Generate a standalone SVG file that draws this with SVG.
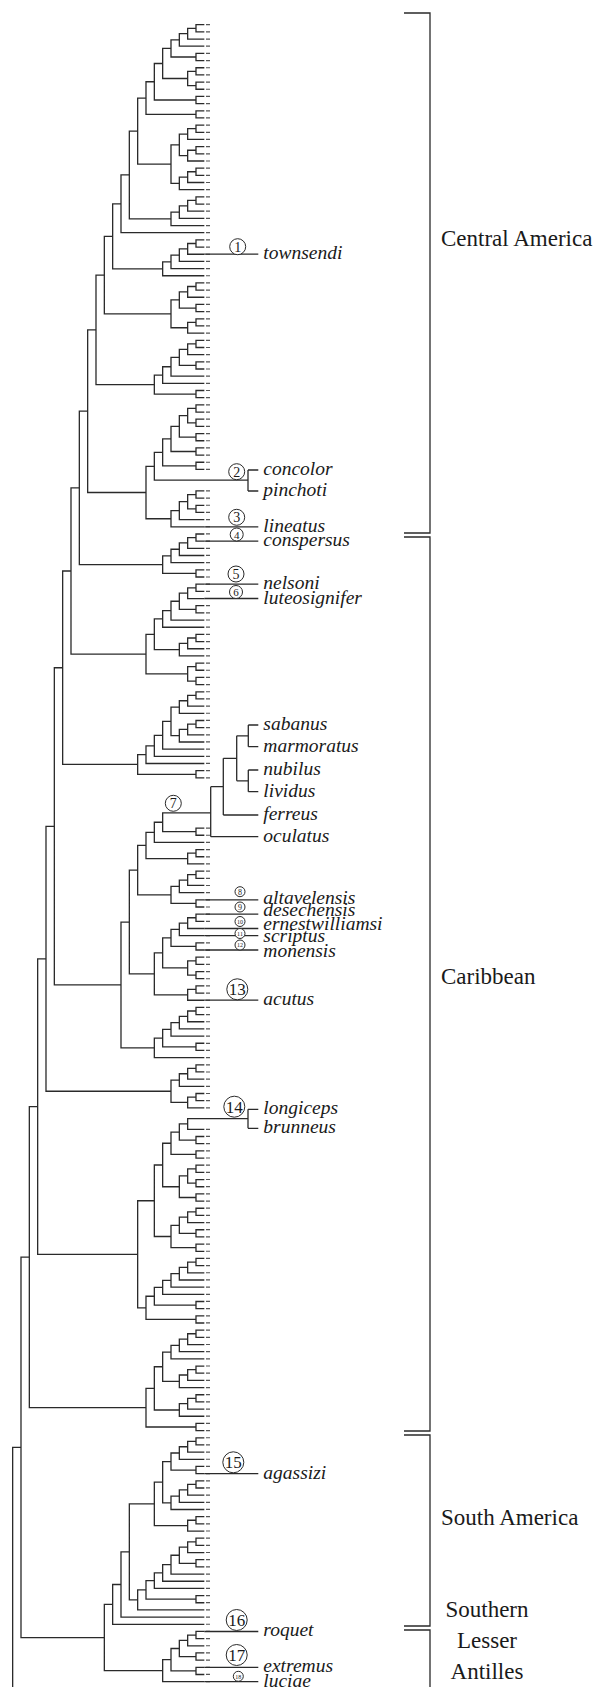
<svg xmlns="http://www.w3.org/2000/svg" width="600" height="1687" viewBox="0 0 600 1687">
<style>
.br{fill:none;stroke:#2a2a2a;stroke-width:1.3;vector-effect:non-scaling-stroke}
.ln{fill:none;stroke:#2a2a2a;stroke-width:1.3}
.tipd{fill:none;stroke:#555;stroke-width:4;stroke-dasharray:1.2 5.973}
.sp{font-family:"Liberation Serif","Times New Roman",serif;font-style:italic;font-size:19.5px;fill:#1a1a1a}
.rg{font-family:"Liberation Serif","Times New Roman",serif;font-size:23px;fill:#1a1a1a}
.c{fill:#fff;stroke:#2a2a2a;stroke-width:1}
.n{font-family:"Liberation Serif","Times New Roman",serif;text-anchor:middle;fill:#1a1a1a}
</style>
<rect width="600" height="1687" fill="#fff"/>
<g id="connectors">
<g id="tree" transform="matrix(-8.3333 0 0 7.173 204.33 24.7)">
<path id="clade-0-13" class="br" d="M0 0H1V1H0M1 0.5H2V2H0M2 1.25H3V3H0M0 4H1V5H0M3 2.125H4V4.5H1M0 6H1V7H0M0 8H1V9H0M1 6.5H2V8.5H1M4 3.3125H5V7.5H2M0 10H1V11H0M5 5.40625H6V10.5H1M0 12H1V13H0M6 7.953H7V12.5H1"/>
<path id="clade-14-23" class="br" d="M0 14H1V15H0M1 14.5H2V16H0M0 17H1V18H0M1 17.5H2V19H0M2 15.25H3V18.25H2M0 20H1V21H0M1 20.5H2V22H0M2 21.25H3V23H0M3 16.75H4V22.125H3M7 10.227H8V19.4375H4"/>
<path id="clade-24-29" class="br" d="M0 24H1V25H0M1 24.5H2V26H0M2 25.25H3V27H0M3 26.125H4V28H0M8 14.832H9V27.0625H4M9 20.947H10V29H0"/>
<path id="clade-30-35" class="br" d="M0 30H1V31H0M1 30.5H2V32H0M2 31.25H3V33H0M3 32.125H4V34H0M4 33.0625H5V35H0M10 24.974H11V34.031H5"/>
<path id="clade-36-43" class="br" d="M0 36H1V37H0M1 36.5H2V38H0M0 39H1V40H0M2 37.25H3V39.5H1M0 41H1V42H0M1 41.5H2V43H0M3 38.375H4V42.25H2M11 29.502H12V40.3125H4"/>
<path id="clade-44-52" class="br" d="M0 44H1V45H0M1 44.5H2V46H0M0 47H1V48H0M2 45.25H3V47.5H1M3 46.375H4V49H0M4 47.6875H5V50H0M0 51H1V52H0M5 48.844H6V51.5H1M12 34.907H13V50.172H6"/>
<path id="clade-53-70" class="br" d="M0 53H1V54H0M0 55H1V56H0M1 53.5H2V55.5H1M0 57H1V58H0M2 54.5H3V57.5H1M0 59H1V60H0M3 56H4V59.5H1M0 61H1V62H0M4 57.75H5V61.5H1M5 59.625H6V63.5H-5.24M0 65H1V66H0M0 67H1V68H0M1 65.5H2V67.5H1M2 66.5H3V69H0M3 67.75H4V70H0M6 61.5625H7V68.875H4M13 42.539H14V65.219H7"/>
<path id="clade-71-77" class="br" d="M0 71H1V72H0M1 71.5H2V73H0M2 72.25H3V74H0M3 73.125H4V75H0M0 76H1V77H0M4 74.0625H5V76.5H1M14 53.879H15V75.281H5"/>
<path id="clade-78-92" class="br" d="M0 78H1V79H0M1 78.5H2V80H0M0 81H1V82H0M2 79.25H3V81.5H1M3 80.375H4V83H0M4 81.6875H5V84H0M0 85H1V86H0M1 85.5H2V87H0M2 86.25H3V88H0M5 82.844H6V87.125H3M0 89H1V90H0M0 91H1V92H0M1 89.5H2V91.5H1M6 84.984H7V90.5H2M15 64.58H16V87.742H7"/>
<path id="clade-93-105" class="br" d="M0 93H1V94H0M1 93.5H2V95H0M2 94.25H3V96H0M0 97H1V98H0M1 97.5H2V99H0M2 98.25H3V100H0M3 95.125H4V99.125H3M4 97.125H5V101H0M5 99.0625H6V102H0M6 100.531H7V103H0M0 104H1V105H0M7 101.766H8V104.5H1M16 76.161H17V103.133H8"/>
<path id="clade-106-144" class="br" d="M-0.76 109.875H5V112.5H1M0 112H1V113H0M5 111.1875H6V114H0M0 115H1V116H0M1 115.5H2V117H0M6 112.594H7V116.25H2M0 118H1V119H0M1 118.5H2V120H0M2 119.25H3V121H0M0 122H1V123H0M3 120.125H4V122.5H1M7 114.422H8V121.3125H4M0 124H1V125H0M1 124.5H2V126H0M2 125.25H3V127H0M0 128H1V129H0M3 126.125H4V128.5H1M0 130H1V131H0M0 132H1V133H0M1 130.5H2V132.5H1M4 127.3125H5V131.5H2M0 134H1V135H0M1 134.5H2V136H0M5 129.406H6V135.25H2M8 117.867H9V132.328H6M0 137H1V138H0M1 137.5H2V139H0M2 138.25H3V140H0M3 139.125H4V141H0M0 142H1V143H0M4 140.0625H5V142.5H1M5 141.281H6V144H0M9 125.098H10V142.641H6M17 89.647H18V133.869H10"/>
<path id="clade-145-151" class="br" d="M0 145H1V146H0M1 145.5H2V147H0M2 146.25H3V148H0M0 149H1V150H0M1 149.5H2V151H0M3 147.125H4V150.25H2M18 111.758H19V148.6875H4"/>
<path id="clade-152-181" class="br" d="M-5.24 152.5H2V154H0M0 155H1V156H0M2 153.25H3V155.5H1M0 157H1V158H0M3 154.375H4V157.5H1M0 159H1V160H0M0 161H1V162H0M1 159.5H2V161.5H1M0 163H1V164H0M2 160.5H3V163.5H1M4 155.9375H5V162H3M0 165H1V166H0M1 165.5H2V167H0M0 168H1V169H0M2 166.25H3V168.5H1M0 170H1V171H0M3 167.375H4V170.5H1M5 158.969H6V168.9375H4M0 172H1V173H0M1 172.5H2V174H0M2 173.25H3V175H0M3 174.125H4V176H0M4 175.0625H5V177H0M0 178H1V179H0M5 176.031H6V178.5H1M0 180H1V181H0M6 177.266H7V180.5H1M6 163.953H8V178.883H7M19 130.223H20V171.418H8"/>
<path id="clade-182-196" class="br" d="M0 182H1V183H0M1 182.5H2V184H0M2 183.25H3V185H0M3 184.125H4V186H0M0 187H1V188H0M1 187.5H2V189H0M2 188.25H3V190H0M4 185.0625H5V189.125H3M0 191H1V192H0M1 191.5H2V193H0M2 192.25H3V194H0M5 187.094H6V193.125H3M0 195H1V196H0M6 190.109H7V195.5H1M20 150.82H21V192.805H7"/>
<path id="clade-197-223" class="br" d="M0 197H1V198H0M1 197.5H2V199H0M2 198.25H3V200H0M0 201H1V202H0M3 199.125H4V201.5H1M0 203H1V204H0M1 203.5H2V205H0M2 204.25H3V206H0M3 205.125H4V207H0M4 200.3125H5V206.0625H4M0 208H1V209H0M1 208.5H2V210H0M5 203.1875H6V209.25H2M0 211H1V212H0M1 211.5H2V213H0M0 214H1V215H0M2 212.25H3V214.5H1M3 213.375H4V216H0M4 214.6875H5V217H0M5 215.844H6V218H0M0 219H1V220H0M6 216.922H7V219.5H1M7 218.211H8V221H0M6 206.219H9V219.605H8M9 212.912H10V222H0M10 217.456H11V223H0"/>
<path id="clade-224-231" class="br" d="M0 224H1V225H0M1 224.5H2V226H0M0 227H1V228H0M2 225.25H3V227.5H1M0 229H1V230H0M3 226.375H4V229.5H1M4 227.9375H5V231H0M11 220.228H12V229.469H5"/>
<path id="root" class="br" d="M21 171.8125H22V224.848H12M22 198.33H23V234"/>
</g>
<g id="tip-ends">
<path class="tipd" d="M208 24.1V470.1M208 490.3V778.5M208 827.5V1108.4M208 1128.7V1682.4"/>
</g>
<g id="inset-sabanus">
<path class="ln" d="M210.7 786.7V836.7M210.7 786.7H223.3M210.7 836.7H258.3M223.3 758.3V815M223.3 815H258.3M223.3 758.3H236.7M236.7 735.8V780.8M236.7 735.8H248.3M236.7 780.8H248.3M248.3 725V746.7M248.3 725H258.3M248.3 746.7H258.3M248.3 770V791.7M248.3 770H258.3M248.3 791.7H258.3"/>
</g>
<g id="bracket-pairs">
<path class="ln" d="M248 470V491M248 470H258.3M248 491H258.3M248 1109.3V1128.3M248 1109.3H258.3M248 1128.3H258.3"/>
</g>
<g id="label-lines">
<path class="ln" d="M204.3 254.2H258.3M204.3 526.8H258.3M204.3 541.2H258.3M204.3 584.2H258.3M204.3 598.5H258.3M204.3 899.8H258.3M204.3 914.2H258.3M204.3 928.5H258.3M204.3 935.7H258.3M204.3 950H258.3M204.3 1000.2H258.3M204.3 1473.6H258.3M204.3 1631.5H258.3M204.3 1667.3H258.3M204.3 1681.7H258.3"/>
</g>
<g id="region-brackets">
<path class="ln" d="M404 13H430V533H404M404 537H430V1431H404M404 1435H430V1626H404M404 1630H430V1690"/>
</g>
</g>
<g id="markers">
<g id="m1"><circle class="c" cx="237.7" cy="246.7" r="8"/><text class="n" x="237.7" y="251.7" font-size="14">1</text></g>
<g id="m2"><circle class="c" cx="236.7" cy="471.7" r="8"/><text class="n" x="236.7" y="476.7" font-size="14">2</text></g>
<g id="m3"><circle class="c" cx="236.7" cy="517.3" r="8"/><text class="n" x="236.7" y="522.3" font-size="14">3</text></g>
<g id="m4"><circle class="c" cx="236.7" cy="534.5" r="6.5"/><text class="n" x="236.7" y="538.5" font-size="11">4</text></g>
<g id="m5"><circle class="c" cx="236" cy="574" r="8"/><text class="n" x="236" y="579" font-size="14">5</text></g>
<g id="m6"><circle class="c" cx="236" cy="592" r="6.5"/><text class="n" x="236" y="596" font-size="11">6</text></g>
<g id="m7"><circle class="c" cx="173.3" cy="803.3" r="8"/><text class="n" x="173.3" y="808.3" font-size="14">7</text></g>
<g id="m8"><circle class="c" cx="240" cy="891.7" r="5"/><text class="n" x="240" y="894.5" font-size="8">8</text></g>
<g id="m9"><circle class="c" cx="240" cy="907" r="5"/><text class="n" x="240" y="909.8" font-size="8">9</text></g>
<g id="m10"><circle class="c" cx="240" cy="921.5" r="5"/><text class="n" x="240" y="923.8" font-size="6">10</text></g>
<g id="m11"><circle class="c" cx="240" cy="933.5" r="5"/><text class="n" x="240" y="935.8" font-size="6">11</text></g>
<g id="m12"><circle class="c" cx="240" cy="945" r="5"/><text class="n" x="240" y="947.3" font-size="6">12</text></g>
<g id="m13"><circle class="c" cx="237.3" cy="989.3" r="10.5"/><text class="n" x="237.3" y="995.3" font-size="17">13</text></g>
<g id="m14"><circle class="c" cx="234.3" cy="1106.7" r="10.5"/><text class="n" x="234.3" y="1112.7" font-size="17">14</text></g>
<g id="m15"><circle class="c" cx="233.3" cy="1462.3" r="10.5"/><text class="n" x="233.3" y="1468.3" font-size="17">15</text></g>
<g id="m16"><circle class="c" cx="236.7" cy="1620" r="10.5"/><text class="n" x="236.7" y="1626" font-size="17">16</text></g>
<g id="m17"><circle class="c" cx="236.7" cy="1655" r="10.5"/><text class="n" x="236.7" y="1661" font-size="17">17</text></g>
<g id="m18"><circle class="c" cx="238.3" cy="1676.3" r="5"/><text class="n" x="238.3" y="1678.6" font-size="6">18</text></g>
</g>
<g id="species">
<text class="sp" x="263.3" y="259">townsendi</text>
<text class="sp" x="263.3" y="475">concolor</text>
<text class="sp" x="263.3" y="496">pinchoti</text>
<text class="sp" x="263.3" y="531.5">lineatus</text>
<text class="sp" x="263.3" y="546">conspersus</text>
<text class="sp" x="263.3" y="589">nelsoni</text>
<text class="sp" x="263.3" y="603.5">luteosignifer</text>
<text class="sp" x="263.3" y="730">sabanus</text>
<text class="sp" x="263.3" y="751.5">marmoratus</text>
<text class="sp" x="263.3" y="775">nubilus</text>
<text class="sp" x="263.3" y="796.5">lividus</text>
<text class="sp" x="263.3" y="820">ferreus</text>
<text class="sp" x="263.3" y="841.5">oculatus</text>
<text class="sp" x="263.3" y="904">altavelensis</text>
<text class="sp" x="263.3" y="916">desechensis</text>
<text class="sp" x="263.3" y="929.5">ernestwilliamsi</text>
<text class="sp" x="263.3" y="941.5">scriptus</text>
<text class="sp" x="263.3" y="957">monensis</text>
<text class="sp" x="263.3" y="1005">acutus</text>
<text class="sp" x="263.3" y="1114">longiceps</text>
<text class="sp" x="263.3" y="1133">brunneus</text>
<text class="sp" x="263.3" y="1478.5">agassizi</text>
<text class="sp" x="263.3" y="1636">roquet</text>
<text class="sp" x="263.3" y="1672">extremus</text>
<text class="sp" x="263.3" y="1686.5">luciae</text>
</g>
<g id="regions">
<text class="rg" x="441" y="246">Central America</text>
<text class="rg" x="441" y="984">Caribbean</text>
<text class="rg" x="441" y="1525">South America</text>
<text class="rg" x="487" y="1617" text-anchor="middle">Southern</text>
<text class="rg" x="487" y="1648" text-anchor="middle">Lesser</text>
<text class="rg" x="487" y="1679" text-anchor="middle">Antilles</text>
</g>
</svg>
